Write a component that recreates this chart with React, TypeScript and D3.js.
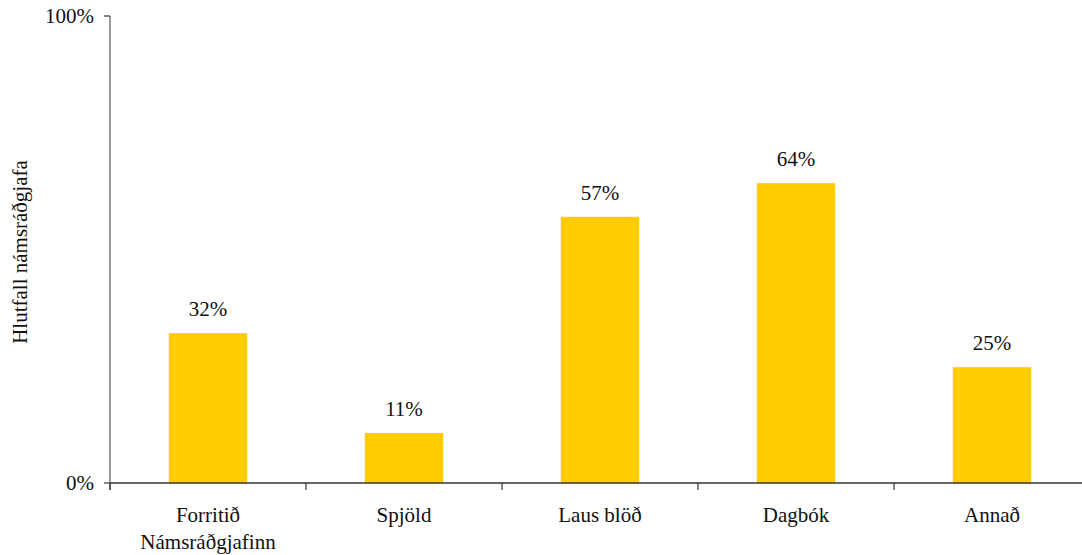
import * as d3 from 'd3';

const categories = ['Forritið Námsráðgjafinn', 'Spjöld', 'Laus blöð', 'Dagbók', 'Annað'];
const categoryLines = [['Forritið', 'Námsráðgjafinn'], ['Spjöld'], ['Laus blöð'], ['Dagbók'], ['Annað']];
const shares = [32.1, 10.7, 57.0, 64.2, 24.8];
const yTicks = [0, 100];
const yTitle = 'Hlutfall námsráðgjafa';

const W = 1082;
const H = 555;
const margin = { top: 16, right: -8, bottom: 72, left: 110 };
const font = "'Times New Roman', 'Liberation Serif', Tinos, 'DejaVu Serif', serif";

export default function App() {
  const x = d3.scaleBand<string>()
    .domain(categories)
    .range([margin.left, W - margin.right])
    .paddingInner(0.6)
    .paddingOuter(0.3);
  const step = x.step();
  const y = d3.scaleLinear().domain([0, 100]).range([H - margin.bottom, margin.top]);
  const y0 = y(0);
  const x0 = margin.left;
  const xEnd = W - margin.right;

  // boundaries between categories
  const bounds = d3.range(categories.length + 1).map(i => x0 + i * step);

  return (
    <svg width={W} height={H} style={{ position: 'absolute', left: 0, top: 0, fontFamily: font }}>
      {/* Bars */}
      {categories.map((c, i) => (
        <rect key={c} x={x(c)} y={y(shares[i])} width={x.bandwidth()} height={y0 - y(shares[i])} fill="#FFCC00" />
      ))}

      {/* Value labels */}
      {categories.map((c, i) => (
        <text key={c} x={(x(c) ?? 0) + x.bandwidth() / 2} y={y(shares[i]) - 17} textAnchor="middle" fontSize={21} fill="#111">
          {Math.round(shares[i])}%
        </text>
      ))}

      {/* Y axis */}
      <line x1={x0} x2={x0} y1={y(100)} y2={y0 + 7} stroke="#666" strokeWidth={1.3} />
      {yTicks.map(t => (
        <g key={t}>
          <line x1={x0 - 6} x2={x0} y1={y(t)} y2={y(t)} stroke="#333" strokeWidth={1.2} />
          <text x={x0 - 16} y={y(t) + 7} textAnchor="end" fontSize={21} fill="#111">{t}%</text>
        </g>
      ))}

      {/* X axis */}
      <line x1={x0} x2={xEnd} y1={y0} y2={y0} stroke="#333" strokeWidth={1.5} />
      {bounds.map((b, i) => (
        <line key={i} x1={b} x2={b} y1={y0} y2={y0 + 7} stroke="#333" strokeWidth={1.2} />
      ))}
      {categories.map((c, i) => (
        <text key={c} x={(x(c) ?? 0) + x.bandwidth() / 2} y={522} textAnchor="middle" fontSize={21} fill="#111">
          {categoryLines[i].map((l, j) => (
            <tspan key={j} x={(x(c) ?? 0) + x.bandwidth() / 2} dy={j === 0 ? 0 : 27}>{l}</tspan>
          ))}
        </text>
      ))}

      {/* Y title */}
      <text transform={`translate(27,252) rotate(-90)`} textAnchor="middle" fontSize={21} fill="#111">{yTitle}</text>
    </svg>
  );
}
